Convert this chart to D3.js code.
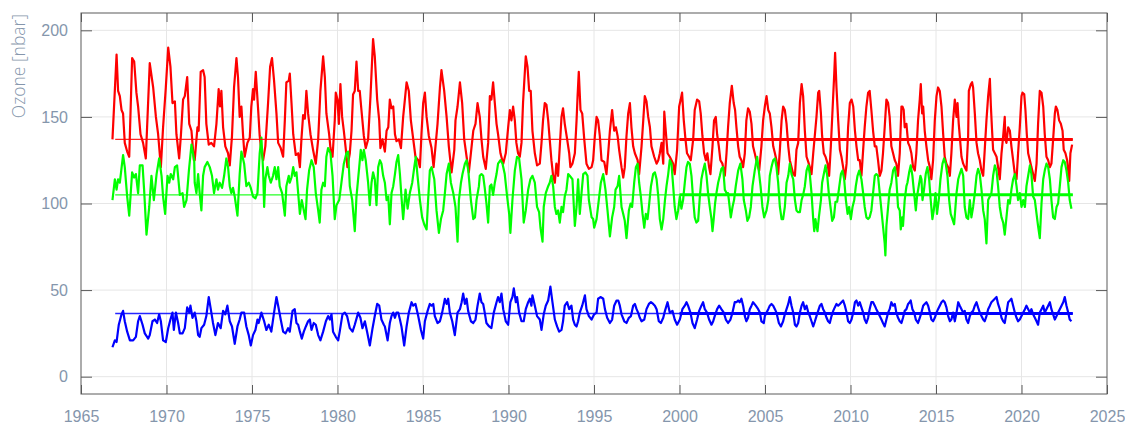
<!DOCTYPE html>
<html><head><meta charset="utf-8">
<script src="https://cdn.jsdelivr.net/npm/d3@7"></script>
<style>
html,body{margin:0;padding:0;background:#fff;}
svg{display:block;font-family:"Open Sans","Noto Sans",sans-serif;}
</style></head><body>
<svg id="chart" width="1125" height="425"></svg>
<script>
const xTicks = [1965,1970,1975,1980,1985,1990,1995,2000,2005,2010,2015,2020,2025];
const yTicks = [0,50,100,150,200];
const yLabel = "Ozone [nbar]";

// [decimal year, ozone nbar]
const redSeries = [
[1966.84,137],[1967.08,186],[1967.17,165],[1967.27,162],[1967.37,154],[1967.46,152],[1967.56,135],[1967.70,130],[1967.82,127],[1967.99,184],[1968.11,182],[1968.24,164],[1968.34,156],[1968.48,140],[1968.63,135],[1968.79,126],[1969.02,181],[1969.22,167],[1969.38,150],[1969.51,140],[1969.67,121],[1969.80,144],[1969.96,167],[1970.10,190],[1970.23,179],[1970.35,158],[1970.49,159],[1970.58,140],[1970.74,126],[1970.84,139],[1970.97,160],[1971.07,162],[1971.21,173],[1971.33,146],[1971.46,142],[1971.60,125],
[1971.65,125],[1971.81,144],[1971.88,142],[1972.00,176],[1972.14,177],[1972.23,173],[1972.33,146],[1972.47,134],[1972.62,135],[1972.78,133],[1972.92,146],[1973.05,166],[1973.13,156],[1973.21,165],[1973.31,144],[1973.44,133],[1973.60,129],[1973.70,122],[1973.83,139],[1973.95,167],[1974.09,184],[1974.18,173],[1974.28,150],[1974.38,156],[1974.48,139],[1974.57,127],[1974.73,135],[1974.87,138],[1974.96,156],[1975.06,166],[1975.12,160],[1975.22,176],[1975.36,154],[1975.45,139],[1975.55,130],[1975.65,125],[1975.78,133],[1975.94,158],[1976.06,179],[1976.17,184],[1976.29,171],[1976.43,152],[1976.53,135],[1976.68,132],[1976.82,127],[1976.92,148],[1977.01,170],[1977.15,171],
[1977.21,175],[1977.31,158],[1977.41,140],[1977.56,128],[1977.70,129],[1977.80,121],[1977.89,137],[1977.99,151],[1978.09,149],[1978.18,165],[1978.28,152],[1978.42,140],[1978.57,131],[1978.73,123],[1978.87,137],[1979.00,165],[1979.16,185],[1979.26,173],[1979.35,152],[1979.51,140],[1979.59,132],[1979.71,127],[1979.84,148],[1979.90,164],[1980.00,160],[1980.08,146],[1980.17,169],[1980.27,150],[1980.37,142],[1980.49,131],[1980.58,121],[1980.72,129],[1980.82,142],[1980.91,163],[1981.01,165],[1981.11,182],[1981.21,165],[1981.30,165],[1981.40,154],[1981.54,139],[1981.65,132],[1981.79,137],[1981.93,162],[1982.08,195],[1982.18,185],[1982.32,160],[1982.44,148],[1982.51,132],[1982.63,137],
[1982.77,130],[1982.87,142],[1982.97,144],[1983.06,160],[1983.16,155],[1983.26,156],[1983.36,140],[1983.45,136],[1983.59,137],[1983.71,132],[1983.84,150],[1983.94,160],[1984.04,170],[1984.17,165],[1984.29,148],[1984.43,137],[1984.56,127],[1984.72,125],[1984.82,121],[1984.91,140],[1985.01,158],[1985.11,164],[1985.21,150],[1985.34,139],[1985.50,132],[1985.62,121],[1985.73,133],[1985.85,146],[1985.99,167],[1986.08,177],[1986.24,165],[1986.38,150],[1986.51,133],[1986.67,118],[1986.83,131],[1986.90,148],[1987.02,156],[1987.16,170],[1987.29,158],[1987.41,137],[1987.55,127],[1987.68,118],[1987.80,129],[1987.94,142],[1988.07,146],[1988.19,158],
[1988.32,150],[1988.42,137],[1988.52,127],[1988.67,120],[1988.81,135],[1988.91,162],[1989.00,160],[1989.10,170],[1989.20,158],[1989.30,146],[1989.39,140],[1989.53,129],[1989.69,123],[1989.84,129],[1989.98,144],[1990.08,154],[1990.17,148],[1990.27,156],[1990.37,148],[1990.46,135],[1990.56,129],[1990.66,127],[1990.76,135],[1990.85,158],[1990.95,175],[1991.01,185],[1991.11,179],[1991.21,165],[1991.30,165],[1991.40,142],[1991.54,129],[1991.67,122],[1991.83,123],[1991.93,135],[1992.02,148],[1992.12,158],[1992.22,157],[1992.32,148],[1992.41,137],[1992.51,125],[1992.61,116],[1992.71,112],[1992.80,123],[1992.90,116],[1993.00,133],[1993.10,150],[1993.19,155],[1993.29,146],[1993.43,137],[1993.55,129],[1993.62,121],[1993.74,123],
[1993.88,129],[1993.98,148],[1994.04,162],[1994.11,176],[1994.21,154],[1994.31,152],[1994.43,137],[1994.56,123],[1994.70,120],[1994.86,121],[1994.95,125],[1995.05,139],[1995.15,150],[1995.24,148],[1995.34,139],[1995.44,125],[1995.60,124],[1995.73,117],[1995.83,129],[1995.93,142],[1996.06,154],[1996.18,142],[1996.28,144],[1996.38,139],[1996.47,131],[1996.61,121],[1996.71,115],[1996.80,121],[1996.90,139],[1997.00,152],[1997.10,158],[1997.19,144],[1997.29,133],[1997.39,129],[1997.55,125],[1997.64,117],[1997.78,133],[1997.88,148],[1997.97,162],[1998.07,159],[1998.17,150],[1998.27,144],[1998.36,133],[1998.52,127],[1998.66,123],[1998.76,125],[1998.85,129],[1998.95,135],[1999.05,123],[1999.11,153],[1999.18,144],[1999.30,129],
[1999.43,127],[1999.53,125],[1999.63,123],[1999.72,117],[1999.86,131],[1999.98,156],[2000.07,160],[2000.15,164],[2000.25,148],[2000.35,137],[2000.44,129],[2000.56,127],[2000.66,125],[2000.80,137],[2000.89,154],[2001.03,160],[2001.15,159],[2001.24,152],[2001.34,139],[2001.44,129],[2001.54,125],[2001.63,129],[2001.73,121],[2001.81,117],[2001.93,133],[2002.02,148],[2002.12,150],[2002.20,140],[2002.30,133],[2002.39,125],[2002.51,123],[2002.65,116],[2002.75,129],[2002.84,144],[2002.94,158],[2003.06,168],[2003.17,158],[2003.25,154],[2003.33,144],[2003.43,133],[2003.52,127],[2003.62,125],[2003.72,121],[2003.82,129],[2003.91,148],[2004.01,155],[2004.11,153],[2004.21,146],[2004.30,133],[2004.40,129],[2004.54,123],[2004.66,119],[2004.79,133],[2004.89,148],
[2004.99,156],[2005.09,162],[2005.19,154],[2005.28,152],[2005.38,144],[2005.48,133],[2005.58,129],[2005.67,125],[2005.77,117],[2005.87,131],[2005.97,148],[2006.06,156],[2006.16,154],[2006.26,146],[2006.36,133],[2006.45,125],[2006.55,121],[2006.65,117],[2006.75,116],[2006.84,131],[2006.94,135],[2007.04,158],[2007.14,169],[2007.23,162],[2007.33,142],[2007.43,127],[2007.53,124],[2007.62,121],[2007.72,117],[2007.82,129],[2007.92,140],[2008.01,150],[2008.11,164],[2008.17,165],[2008.27,152],[2008.34,139],[2008.44,129],[2008.54,127],[2008.66,123],[2008.75,116],[2008.85,133],[2008.95,154],[2009.05,175],[2009.10,187],[2009.18,167],[2009.28,148],[2009.38,131],[2009.47,127],[2009.57,121],[2009.67,114],[2009.77,123],[2009.86,144],[2009.96,158],[2010.06,160],[2010.16,156],[2010.26,142],[2010.35,133],[2010.45,125],
[2010.54,125],[2010.64,116],[2010.74,131],[2010.83,144],[2010.93,156],[2011.03,164],[2011.12,165],[2011.22,154],[2011.32,142],[2011.42,133],[2011.51,133],[2011.61,125],[2011.71,116],[2011.81,119],[2011.90,129],[2012.00,144],[2012.10,160],[2012.20,158],[2012.29,150],[2012.39,133],[2012.49,129],[2012.59,125],[2012.68,123],[2012.78,116],[2012.88,129],[2012.98,156],[2013.04,156],[2013.11,154],[2013.17,144],[2013.27,146],[2013.37,135],[2013.46,133],[2013.56,129],[2013.66,121],[2013.76,119],[2013.85,129],[2013.95,148],[2014.05,160],[2014.11,169],[2014.19,152],[2014.25,156],[2014.34,142],[2014.44,133],[2014.54,125],[2014.64,121],[2014.73,114],[2014.83,125],[2014.93,148],[2015.03,162],[2015.12,167],[2015.22,165],[2015.32,156],[2015.42,140],[2015.51,127],[2015.61,123],[2015.71,121],[2015.81,116],[2015.90,129],[2016.00,148],
[2016.10,160],[2016.20,150],[2016.26,158],[2016.33,146],[2016.39,139],[2016.49,127],[2016.59,123],[2016.68,121],[2016.78,119],[2016.88,139],[2016.92,165],[2017.04,169],[2017.11,170],[2017.17,167],[2017.27,152],[2017.37,135],[2017.46,129],[2017.56,125],[2017.66,119],[2017.76,116],[2017.85,131],[2017.95,148],[2018.05,162],[2018.15,172],[2018.21,156],[2018.28,142],[2018.34,131],[2018.44,129],[2018.54,127],[2018.63,121],[2018.73,114],[2018.83,129],[2018.93,139],[2019.02,150],[2019.06,137],[2019.12,135],[2019.22,144],[2019.32,142],[2019.41,133],[2019.51,125],[2019.61,117],[2019.71,114],[2019.80,129],[2019.90,144],[2020.00,162],[2020.06,164],[2020.16,163],[2020.23,154],[2020.31,140],[2020.39,129],[2020.49,125],[2020.58,121],[2020.68,117],[2020.78,113],[2020.88,123],[2020.97,146],
[2021.07,165],[2021.17,164],[2021.27,156],[2021.36,140],[2021.46,127],[2021.56,125],[2021.66,121],[2021.75,123],[2021.85,137],[2021.95,152],[2022.01,156],[2022.10,154],[2022.20,148],[2022.30,146],[2022.40,142],[2022.47,131],[2022.57,129],[2022.67,125],[2022.79,113],[2022.86,129],[2022.96,134]
];

const greenSeries = [
[1966.84,102],[1966.98,114],[1967.08,108],[1967.17,114],[1967.27,112],[1967.46,128],[1967.56,121],[1967.70,104],[1967.82,93],[1967.99,118],[1968.11,115],[1968.21,117],[1968.34,106],[1968.44,122],[1968.60,122],[1968.69,108],[1968.83,82],[1968.99,98],[1969.12,116],[1969.26,102],[1969.42,117],[1969.57,126],[1969.71,116],[1969.80,104],[1969.92,94],[1970.06,116],[1970.16,112],[1970.25,117],[1970.39,114],[1970.49,121],[1970.62,122],[1970.78,105],[1970.94,106],[1971.03,98],[1971.17,102],[1971.31,119],[1971.46,134],[1971.62,125],
[1971.65,112],[1971.75,106],[1971.85,117],[1971.94,106],[1972.04,96],[1972.14,116],[1972.23,121],[1972.39,124],[1972.53,121],[1972.66,116],[1972.78,106],[1972.92,114],[1973.01,108],[1973.11,112],[1973.25,109],[1973.37,116],[1973.50,126],[1973.60,121],[1973.70,110],[1973.79,106],[1973.89,109],[1973.99,104],[1974.15,93],[1974.28,117],[1974.38,130],[1974.54,123],[1974.67,110],[1974.81,112],[1974.93,109],[1975.06,104],[1975.20,103],[1975.32,106],[1975.45,129],[1975.55,138],[1975.65,119],[1975.71,98],[1975.78,114],[1975.90,121],[1975.98,116],[1976.10,112],[1976.23,116],[1976.33,121],[1976.43,114],[1976.53,121],[1976.62,110],[1976.76,106],[1976.92,93],[1977.01,110],[1977.15,116],
[1977.21,112],[1977.31,115],[1977.41,121],[1977.50,116],[1977.60,118],[1977.70,106],[1977.80,94],[1977.91,102],[1977.99,98],[1978.13,91],[1978.22,108],[1978.34,119],[1978.48,125],[1978.61,121],[1978.73,106],[1978.87,96],[1978.96,89],[1979.06,108],[1979.16,112],[1979.26,110],[1979.35,127],[1979.45,132],[1979.59,129],[1979.71,116],[1979.84,91],[1979.94,99],[1980.10,102],[1980.23,112],[1980.37,123],[1980.52,129],[1980.62,130],[1980.72,110],[1980.86,102],[1981.01,84],[1981.11,104],[1981.27,121],[1981.36,131],[1981.46,125],[1981.54,131],[1981.65,125],[1981.79,112],[1981.89,99],[1981.99,112],[1982.08,118],[1982.18,114],[1982.28,99],[1982.38,121],[1982.48,125],[1982.57,123],[1982.67,116],
[1982.77,112],[1982.87,102],[1982.97,104],[1983.06,88],[1983.16,106],[1983.26,110],[1983.36,117],[1983.45,124],[1983.55,128],[1983.65,117],[1983.74,104],[1983.84,91],[1983.98,108],[1984.10,97],[1984.23,106],[1984.37,112],[1984.49,121],[1984.58,127],[1984.68,116],[1984.82,102],[1984.95,92],[1985.07,88],[1985.21,85],[1985.30,102],[1985.40,119],[1985.50,121],[1985.66,114],[1985.79,96],[1985.93,83],[1986.05,91],[1986.18,96],[1986.28,106],[1986.38,117],[1986.51,123],[1986.63,112],[1986.77,106],[1986.90,98],[1987.02,78],[1987.10,102],[1987.22,112],[1987.31,117],[1987.45,123],[1987.55,125],[1987.65,119],[1987.80,102],[1987.94,91],[1988.04,92],[1988.13,102],[1988.27,110],
[1988.32,116],[1988.42,117],[1988.52,116],[1988.61,109],[1988.71,100],[1988.81,89],[1988.91,110],[1989.00,111],[1989.10,105],[1989.20,112],[1989.30,117],[1989.39,123],[1989.53,125],[1989.65,123],[1989.78,117],[1989.92,104],[1990.04,94],[1990.11,83],[1990.23,102],[1990.37,119],[1990.50,127],[1990.62,126],[1990.76,114],[1990.89,89],[1991.01,96],[1991.15,108],[1991.28,114],[1991.40,116],[1991.54,112],[1991.67,98],[1991.79,95],[1991.87,86],[1991.99,78],[1992.06,98],[1992.18,106],[1992.32,110],[1992.41,112],[1992.51,116],[1992.61,110],[1992.71,98],[1992.80,94],[1992.90,96],[1993.00,89],[1993.10,98],[1993.19,95],[1993.29,104],[1993.39,108],[1993.49,117],[1993.58,116],[1993.74,114],
[1993.88,87],[1993.98,98],[1994.07,114],[1994.17,94],[1994.27,106],[1994.37,117],[1994.50,118],[1994.62,116],[1994.70,102],[1994.86,92],[1994.95,91],[1995.01,86],[1995.15,91],[1995.28,102],[1995.40,112],[1995.54,117],[1995.67,108],[1995.79,96],[1995.93,81],[1996.06,92],[1996.18,98],[1996.26,108],[1996.38,110],[1996.47,116],[1996.61,98],[1996.71,94],[1996.80,90],[1996.90,80],[1997.04,96],[1997.14,100],[1997.23,98],[1997.35,112],[1997.45,121],[1997.55,123],[1997.64,112],[1997.74,104],[1997.84,94],[1997.94,86],[1998.03,94],[1998.13,91],[1998.21,98],[1998.33,110],[1998.46,117],[1998.56,118],[1998.66,114],[1998.76,104],[1998.85,91],[1998.95,85],[1999.05,91],[1999.15,102],[1999.24,110],[1999.34,117],
[1999.43,125],[1999.53,123],[1999.63,110],[1999.72,98],[1999.82,91],[1999.92,96],[2000.02,104],[2000.11,97],[2000.21,102],[2000.31,112],[2000.41,121],[2000.50,124],[2000.60,123],[2000.70,116],[2000.80,102],[2000.89,92],[2000.99,89],[2001.09,90],[2001.19,104],[2001.28,114],[2001.38,119],[2001.48,123],[2001.58,116],[2001.67,106],[2001.77,98],[2001.87,91],[2001.93,84],[2002.00,91],[2002.08,100],[2002.16,106],[2002.26,112],[2002.36,116],[2002.45,120],[2002.55,121],[2002.65,108],[2002.75,106],[2002.84,106],[2002.90,101],[2003.00,92],[2003.10,98],[2003.19,102],[2003.29,110],[2003.43,119],[2003.56,123],[2003.68,114],[2003.76,102],[2003.88,96],[2003.97,90],[2004.07,92],[2004.17,98],[2004.27,110],[2004.40,119],[2004.54,127],[2004.66,117],[2004.74,110],[2004.85,98],[2004.95,92],
[2005.09,96],[2005.19,102],[2005.28,116],[2005.38,121],[2005.48,125],[2005.58,126],[2005.67,121],[2005.77,112],[2005.87,98],[2005.97,91],[2006.06,91],[2006.16,98],[2006.26,112],[2006.36,116],[2006.45,123],[2006.55,117],[2006.65,114],[2006.75,102],[2006.84,96],[2006.94,95],[2007.04,95],[2007.14,102],[2007.23,105],[2007.33,110],[2007.43,119],[2007.53,122],[2007.62,117],[2007.72,106],[2007.82,91],[2007.88,84],[2007.95,91],[2008.01,87],[2008.07,84],[2008.15,92],[2008.27,102],[2008.34,112],[2008.46,118],[2008.54,122],[2008.64,116],[2008.73,106],[2008.83,98],[2008.93,90],[2009.03,92],[2009.12,101],[2009.22,101],[2009.32,108],[2009.44,117],[2009.53,119],[2009.63,114],[2009.73,102],[2009.83,94],[2009.92,98],[2010.02,91],[2010.12,98],[2010.22,102],[2010.31,110],[2010.41,116],[2010.51,119],
[2010.64,114],[2010.74,106],[2010.83,98],[2010.93,92],[2011.03,91],[2011.12,92],[2011.22,96],[2011.32,106],[2011.42,116],[2011.51,117],[2011.61,116],[2011.71,106],[2011.81,96],[2011.90,87],[2012.00,77],[2012.04,70],[2012.10,87],[2012.20,98],[2012.29,108],[2012.39,112],[2012.49,119],[2012.59,121],[2012.68,114],[2012.78,98],[2012.88,96],[2012.94,85],[2013.02,92],[2013.07,87],[2013.17,102],[2013.27,110],[2013.33,112],[2013.43,118],[2013.52,122],[2013.62,116],[2013.72,106],[2013.82,96],[2013.89,104],[2013.99,110],[2014.09,116],[2014.15,114],[2014.21,102],[2014.30,108],[2014.40,117],[2014.50,121],[2014.60,114],[2014.69,102],[2014.79,91],[2014.87,96],[2014.97,106],[2015.06,94],[2015.16,102],[2015.26,114],[2015.38,123],[2015.47,126],[2015.57,123],[2015.67,116],[2015.77,102],[2015.86,94],[2015.96,91],[2016.06,88],
[2016.20,106],[2016.30,114],[2016.39,117],[2016.49,120],[2016.59,116],[2016.68,98],[2016.78,92],[2016.88,91],[2016.98,102],[2017.07,92],[2017.17,98],[2017.27,106],[2017.37,116],[2017.46,120],[2017.56,117],[2017.66,108],[2017.76,96],[2017.85,91],[2017.95,77],[2018.05,102],[2018.15,104],[2018.24,106],[2018.34,116],[2018.44,122],[2018.54,119],[2018.63,110],[2018.73,98],[2018.83,92],[2018.93,89],[2019.02,82],[2019.12,92],[2019.22,102],[2019.32,100],[2019.41,108],[2019.51,114],[2019.61,117],[2019.71,110],[2019.80,102],[2019.90,106],[2020.00,98],[2020.10,102],[2020.20,98],[2020.29,110],[2020.39,116],[2020.49,122],[2020.58,117],[2020.68,104],[2020.78,102],[2020.88,94],[2020.97,87],
[2021.07,80],[2021.17,100],[2021.27,114],[2021.36,119],[2021.46,123],[2021.56,121],[2021.66,114],[2021.75,102],[2021.85,92],[2021.95,91],[2022.05,98],[2022.14,100],[2022.24,110],[2022.34,121],[2022.44,125],[2022.53,124],[2022.63,119],[2022.73,112],[2022.82,102],[2022.92,97]
];

const blueSeries = [
[1966.84,17],[1966.98,21],[1967.08,20],[1967.21,30],[1967.37,36],[1967.46,38],[1967.56,32],[1967.70,26],[1967.86,21],[1968.05,21],[1968.21,23],[1968.34,32],[1968.44,35],[1968.60,30],[1968.73,25],[1968.93,22],[1969.02,24],[1969.18,32],[1969.32,33],[1969.45,31],[1969.57,36],[1969.67,32],[1969.80,21],[1969.96,20],[1970.10,28],[1970.23,33],[1970.35,37],[1970.43,27],[1970.55,37],[1970.68,31],[1970.78,25],[1970.94,25],[1971.07,28],[1971.21,40],[1971.33,37],[1971.40,41],[1971.52,34],
[1971.65,37],[1971.75,32],[1971.85,24],[1971.94,23],[1972.04,28],[1972.20,30],[1972.33,35],[1972.47,46],[1972.59,39],[1972.72,31],[1972.86,24],[1973.01,31],[1973.17,28],[1973.31,38],[1973.44,36],[1973.56,41],[1973.70,32],[1973.83,29],[1973.99,19],[1974.15,29],[1974.28,33],[1974.38,37],[1974.54,37],[1974.67,29],[1974.81,24],[1974.93,18],[1975.06,24],[1975.20,27],[1975.32,33],[1975.39,31],[1975.55,37],[1975.71,32],[1975.84,27],[1975.98,30],[1976.13,26],[1976.29,37],[1976.43,46],[1976.53,41],[1976.68,33],[1976.82,26],[1976.96,25],[1977.11,28],
[1977.21,26],[1977.37,38],[1977.50,39],[1977.60,31],[1977.70,30],[1977.80,26],[1977.91,22],[1978.03,26],[1978.15,29],[1978.28,32],[1978.38,33],[1978.48,27],[1978.61,31],[1978.73,30],[1978.87,24],[1979.00,21],[1979.16,26],[1979.32,32],[1979.45,35],[1979.55,33],[1979.65,36],[1979.74,26],[1979.90,23],[1980.04,21],[1980.13,26],[1980.29,36],[1980.43,37],[1980.56,35],[1980.72,28],[1980.88,26],[1981.01,30],[1981.21,37],[1981.34,34],[1981.46,28],[1981.60,32],[1981.73,26],[1981.89,18],[1982.05,28],[1982.18,35],[1982.32,42],[1982.44,41],[1982.57,33],[1982.71,30],
[1982.77,29],[1982.93,21],[1983.06,31],[1983.16,35],[1983.26,37],[1983.36,34],[1983.45,37],[1983.55,37],[1983.65,33],[1983.74,29],[1983.90,18],[1984.04,29],[1984.17,37],[1984.33,43],[1984.43,41],[1984.56,42],[1984.72,35],[1984.88,27],[1985.01,22],[1985.11,32],[1985.27,38],[1985.40,42],[1985.50,41],[1985.60,42],[1985.69,35],[1985.85,31],[1985.99,32],[1986.12,37],[1986.28,45],[1986.38,42],[1986.47,45],[1986.57,37],[1986.71,32],[1986.86,24],[1987.02,37],[1987.16,39],[1987.26,43],[1987.35,48],[1987.45,42],[1987.55,45],[1987.64,38],[1987.80,32],[1987.94,31],[1988.07,33],[1988.19,41],
[1988.32,48],[1988.42,43],[1988.52,42],[1988.61,37],[1988.71,31],[1988.87,29],[1989.00,28],[1989.14,37],[1989.30,43],[1989.39,46],[1989.49,43],[1989.59,48],[1989.69,39],[1989.84,32],[1989.98,30],[1990.11,43],[1990.23,46],[1990.31,51],[1990.43,43],[1990.50,46],[1990.62,37],[1990.76,32],[1990.89,32],[1991.01,39],[1991.15,43],[1991.25,45],[1991.34,41],[1991.40,47],[1991.54,41],[1991.67,35],[1991.83,33],[1991.93,27],[1992.06,36],[1992.18,41],[1992.32,44],[1992.45,52],[1992.57,43],[1992.71,33],[1992.84,29],[1992.96,26],[1993.10,27],[1993.19,32],[1993.29,41],[1993.43,43],[1993.55,39],[1993.68,41],[1993.78,33],
[1993.88,30],[1993.98,29],[1994.07,32],[1994.17,37],[1994.31,41],[1994.47,47],[1994.56,39],[1994.70,35],[1994.86,33],[1995.01,36],[1995.15,37],[1995.24,45],[1995.40,46],[1995.54,45],[1995.64,39],[1995.77,34],[1995.93,31],[1996.06,33],[1996.18,41],[1996.32,44],[1996.42,44],[1996.51,41],[1996.61,36],[1996.77,32],[1996.90,31],[1997.04,34],[1997.16,35],[1997.29,41],[1997.39,42],[1997.49,39],[1997.58,37],[1997.68,34],[1997.78,32],[1997.94,33],[1998.07,39],[1998.21,42],[1998.33,43],[1998.46,42],[1998.56,41],[1998.66,39],[1998.79,32],[1998.91,31],[1999.05,34],[1999.15,38],[1999.30,43],
[1999.43,37],[1999.59,38],[1999.72,33],[1999.86,30],[2000.02,33],[2000.17,39],[2000.31,41],[2000.41,43],[2000.50,41],[2000.64,37],[2000.76,31],[2000.89,28],[2001.03,33],[2001.15,38],[2001.28,41],[2001.38,43],[2001.48,39],[2001.61,37],[2001.73,33],[2001.87,30],[2001.97,32],[2002.06,35],[2002.20,39],[2002.32,41],[2002.45,39],[2002.59,37],[2002.71,33],[2002.84,31],[2002.98,33],[2003.10,37],[2003.23,43],[2003.33,43],[2003.43,44],[2003.52,43],[2003.62,45],[2003.72,41],[2003.82,35],[2003.91,32],[2004.01,34],[2004.11,39],[2004.21,41],[2004.30,43],[2004.46,41],[2004.60,39],[2004.70,37],[2004.79,32],[2004.93,31],
[2004.99,35],[2005.09,37],[2005.19,39],[2005.28,41],[2005.38,42],[2005.48,41],[2005.58,39],[2005.67,37],[2005.81,31],[2005.93,29],[2006.06,32],[2006.16,36],[2006.26,39],[2006.36,42],[2006.45,46],[2006.55,41],[2006.65,37],[2006.75,30],[2006.84,29],[2006.94,31],[2007.04,37],[2007.14,41],[2007.23,43],[2007.33,39],[2007.43,41],[2007.53,37],[2007.62,35],[2007.72,32],[2007.82,29],[2007.92,32],[2008.01,35],[2008.11,38],[2008.21,41],[2008.30,42],[2008.40,39],[2008.50,37],[2008.60,34],[2008.69,32],[2008.79,31],[2008.89,35],[2008.99,38],[2009.08,40],[2009.18,42],[2009.28,41],[2009.38,42],[2009.47,43],[2009.57,44],[2009.67,41],[2009.77,37],[2009.86,32],[2009.96,31],[2010.06,33],[2010.16,37],[2010.26,43],[2010.35,44],[2010.45,41],
[2010.54,43],[2010.64,40],[2010.74,37],[2010.83,33],[2010.93,31],[2011.03,34],[2011.12,39],[2011.22,43],[2011.32,43],[2011.42,41],[2011.51,39],[2011.61,37],[2011.71,35],[2011.81,33],[2011.90,31],[2012.00,29],[2012.10,33],[2012.20,37],[2012.29,39],[2012.39,43],[2012.49,41],[2012.59,42],[2012.68,37],[2012.78,34],[2012.88,32],[2012.98,31],[2013.07,34],[2013.17,38],[2013.27,39],[2013.37,42],[2013.46,43],[2013.52,44],[2013.62,39],[2013.72,37],[2013.82,33],[2013.95,31],[2014.05,34],[2014.15,37],[2014.25,41],[2014.34,42],[2014.44,43],[2014.54,41],[2014.64,37],[2014.73,33],[2014.83,32],[2014.93,34],[2015.03,37],[2015.12,39],[2015.22,41],[2015.32,43],[2015.42,44],[2015.51,43],[2015.61,40],[2015.71,35],[2015.81,32],[2015.90,33],[2016.00,37],
[2016.10,32],[2016.20,37],[2016.30,43],[2016.39,41],[2016.49,39],[2016.59,37],[2016.68,38],[2016.78,33],[2016.88,31],[2016.98,35],[2017.07,37],[2017.17,38],[2017.27,41],[2017.37,43],[2017.46,40],[2017.56,37],[2017.66,35],[2017.76,33],[2017.85,32],[2017.95,35],[2018.05,39],[2018.15,41],[2018.24,43],[2018.34,44],[2018.44,45],[2018.54,46],[2018.63,42],[2018.73,39],[2018.83,34],[2018.93,32],[2019.02,31],[2019.12,37],[2019.22,43],[2019.32,44],[2019.41,45],[2019.51,41],[2019.61,37],[2019.71,34],[2019.80,32],[2019.90,33],[2020.00,35],[2020.10,37],[2020.20,39],[2020.29,41],[2020.39,39],[2020.49,37],[2020.58,39],[2020.68,36],[2020.78,34],[2020.88,32],[2020.97,30],
[2021.07,37],[2021.17,39],[2021.27,41],[2021.36,37],[2021.46,39],[2021.56,41],[2021.66,43],[2021.75,39],[2021.85,36],[2021.95,33],[2022.05,35],[2022.14,37],[2022.24,39],[2022.34,41],[2022.44,43],[2022.53,46],[2022.63,41],[2022.73,37],[2022.82,33],[2022.92,32]
];

const seriesColors = ["#ff0000", "#00ff00", "#0000ff"];
const meanValues = [137, 105, 36.5];
const meanPeriodFull = [1967.0, 2023.0];
const meanPeriodRecent = [2000.0, 2023.0];

const svg = d3.select("#chart");
const W = 1125, H = 425;
const m = {left: 81, right: 18, top: 13, bottom: 31};
const x = d3.scaleLinear().domain([1965, 2025]).range([m.left, W - m.right]);
const y = d3.scaleLinear().domain([-10, 210]).range([H - m.bottom, m.top]);

const labelColor = "#8596ac";
const axisColor = "#5a5a5a";
const fontSize = 16;

// grid
const grid = svg.append("g");
grid.selectAll("line.vx").data(xTicks.slice(1, -1)).join("line")
  .attr("x1", d => x(d)).attr("x2", d => x(d))
  .attr("y1", y.range()[1]).attr("y2", y.range()[0])
  .attr("stroke", "#e6e6e6").attr("stroke-width", 1);
grid.selectAll("line.hy").data(yTicks).join("line")
  .attr("x1", x.range()[0]).attr("x2", x.range()[1])
  .attr("y1", d => y(d)).attr("y2", d => y(d))
  .attr("stroke", "#e6e6e6").attr("stroke-width", 1);

// series
const line = d3.line().x(d => x(d[0])).y(d => y(d[1]));
const allSeries = [redSeries, greenSeries, blueSeries];
allSeries.forEach((s, i) => {
  svg.append("path").datum(s)
    .attr("fill", "none").attr("stroke", seriesColors[i])
    .attr("stroke-width", 2.2).attr("stroke-linejoin", "round")
    .attr("d", line);
});

// mean lines
meanValues.forEach((v, i) => {
  svg.append("line")
    .attr("x1", x(meanPeriodFull[0])).attr("x2", x(meanPeriodFull[1]))
    .attr("y1", y(v)).attr("y2", y(v))
    .attr("stroke", seriesColors[i]).attr("stroke-width", 1.4).attr("opacity", 0.85);
  svg.append("line")
    .attr("x1", x(meanPeriodRecent[0])).attr("x2", x(meanPeriodRecent[1]))
    .attr("y1", y(v)).attr("y2", y(v))
    .attr("stroke", seriesColors[i]).attr("stroke-width", 3);
});

// axes
function styleAxis(g) {
  g.select(".domain").remove();
  g.selectAll(".tick line").attr("stroke", axisColor).attr("stroke-width", 1);
  g.selectAll(".tick text").attr("fill", labelColor).attr("font-size", fontSize).attr("font-weight", 300);
}
svg.append("g").attr("transform", `translate(0,${y.range()[0]})`)
  .call(d3.axisBottom(x).tickValues(xTicks).tickFormat(d3.format("d")).tickSize(-9).tickPadding(17))
  .call(styleAxis);
svg.append("g").attr("transform", `translate(0,${y.range()[1]})`)
  .call(d3.axisTop(x).tickValues(xTicks).tickFormat("").tickSize(-9))
  .call(styleAxis);
svg.append("g").attr("transform", `translate(${x.range()[0]},0)`)
  .call(d3.axisLeft(y).tickValues(yTicks).tickSize(-11).tickPadding(13))
  .call(styleAxis);
svg.append("g").attr("transform", `translate(${x.range()[1]},0)`)
  .call(d3.axisRight(y).tickValues(yTicks).tickFormat("").tickSize(-11))
  .call(styleAxis);

// frame
svg.append("rect")
  .attr("x", x.range()[0]).attr("y", y.range()[1])
  .attr("width", x.range()[1] - x.range()[0]).attr("height", y.range()[0] - y.range()[1])
  .attr("fill", "none").attr("stroke", axisColor).attr("stroke-width", 1);

// y label
svg.append("text")
  .attr("transform", `translate(25,${m.top + 1}) rotate(-90)`)
  .attr("text-anchor", "end")
  .attr("fill", labelColor).attr("font-size", 17.5).attr("font-weight", 300)
  .text(yLabel);
</script>
</body></html>
